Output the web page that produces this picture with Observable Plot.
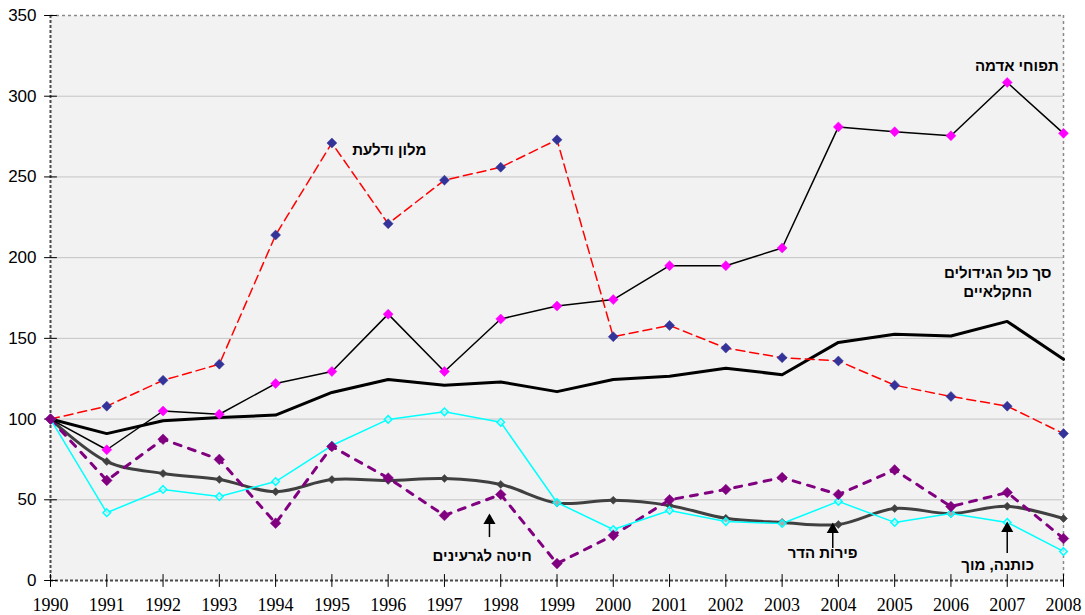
<!DOCTYPE html>
<html>
<head>
<meta charset="utf-8">
<script src="https://cdn.jsdelivr.net/npm/d3@7"></script>
<script src="https://cdn.jsdelivr.net/npm/@observablehq/plot@0.6"></script>
<style>
  html, body { margin: 0; padding: 0; background: #fff; }
</style>
</head>
<body>
<div id="chart"></div>
<script>
const years = [1990,1991,1992,1993,1994,1995,1996,1997,1998,1999,2000,2001,2002,2003,2004,2005,2006,2007,2008];
const melon    = [100,108,124,134,214,271,221,248,256,273,151,158,144,138,136,121,114,108,91];
const potatoes = [100,81,105,103,122,129.5,165,129.5,162,170,174,195,195,206,281,278,275.5,308.5,277];
const total    = [100,91,99,101,102.5,116.5,124.5,121,123,117,124.5,126.5,131.5,127.5,147.5,152.5,151.5,160.5,137];
const cotton   = [100,42,56.4,52,61.3,83.6,99.8,104.5,98,48.3,31.6,43.4,36.5,35.3,49,36,41.5,36,18];
const citrus   = [100,73.7,66.3,62.6,55,62.5,62,63.2,59.5,48,49.7,46.5,38.5,36,34.7,44.6,41.5,46,38.4];
const wheat    = [100,62,87.5,75,35.5,83,63.5,40.3,53.3,10.5,28,50,56.4,63.8,53.3,68.5,45.8,54.5,26];
const yTicks = [0,50,100,150,200,250,300,350];
const gridValues = [50,100,150,200,250,300];

const labels = [
  {text: "מלון ודלעת", x: 1996.02, y: 267.6},
  {text: "תפוחי אדמה", x: 2007.17, y: 319.7},
  {text: "סך כול הגידולים\nהחקלאיים", x: 2006.83, y: 185.5},
  {text: "חיטה לגרעינים", x: 1997.67, y: 16.1},
  {text: "פירות הדר", x: 2003.72, y: 18},
  {text: "כותנה, מוך", x: 2006.83, y: 10.5}
];
const arrows = [
  {x: 1997.8, y1: 26.6, y2: 40.3},
  {x: 2003.9, y1: 19.8, y2: 34.7},
  {x: 2007.0, y1: 16.7, y2: 35.3}
];

const toRows = (vals) => years.map((yr, i) => ({year: yr, value: vals[i]}));
const melonRows = toRows(melon), potatoRows = toRows(potatoes), totalRows = toRows(total),
      cottonRows = toRows(cotton), citrusRows = toRows(citrus), wheatRows = toRows(wheat);

const tickShape = {draw(ctx, l) { ctx.moveTo(0, 0); ctx.lineTo(0, -l); }};

const chart = Plot.plot({
  width: 1085,
  height: 615,
  marginLeft: 50,
  marginRight: 22,
  marginTop: 15,
  marginBottom: 35,
  style: {fontFamily: "Liberation Sans", fontSize: "17px", color: "#000", background: "transparent"},
  x: {domain: [1990, 2008]},
  y: {domain: [0, 350]},
  marks: [
    Plot.frame({fill: "#f2f2f2", stroke: null}),
    Plot.ruleY(gridValues, {stroke: "#c4c4c4", strokeWidth: 1}),
    Plot.ruleY([350], {stroke: "#8a8a8a", strokeWidth: 1.5, strokeDasharray: "3,3"}),
    Plot.ruleX([2008], {stroke: "#8a8a8a", strokeWidth: 1.5, strokeDasharray: "3,3"}),
    Plot.ruleX([1990], {stroke: "#4a4a4a", strokeWidth: 2, strokeDasharray: "3,2"}),
    Plot.ruleY([0], {stroke: "#4a4a4a", strokeWidth: 2, strokeDasharray: "3,2"}),
    Plot.vector(years, {x: d => d, y: () => 0, length: 12, anchor: "middle", shape: tickShape, stroke: "#000", strokeWidth: 1}),
    Plot.vector(yTicks, {x: () => 1990, y: d => d, length: 12, rotate: 90, anchor: "middle", shape: tickShape, stroke: "#000", strokeWidth: 1}),
    Plot.axisY({ticks: yTicks, tickSize: 0, tickPadding: 14, fontSize: 17, fontFamily: "Liberation Sans", label: null}),
    Plot.axisX({ticks: years, tickFormat: d => String(d), tickSize: 0, tickPadding: 18, fontSize: 18, fontFamily: "Liberation Serif", label: null}),

    Plot.line(totalRows, {x: "year", y: "value", stroke: "#000", strokeWidth: 3}),
    Plot.line(citrusRows, {x: "year", y: "value", stroke: "#404040", strokeWidth: 3, curve: "catmull-rom"}),
    Plot.line(wheatRows, {x: "year", y: "value", stroke: "#800080", strokeWidth: 3, strokeDasharray: "7,8"}),
    Plot.line(cottonRows, {x: "year", y: "value", stroke: "#00ffff", strokeWidth: 1.5}),
    Plot.line(potatoRows, {x: "year", y: "value", stroke: "#000", strokeWidth: 1.5}),
    Plot.line(melonRows, {x: "year", y: "value", stroke: "#ff0000", strokeWidth: 1.5, strokeDasharray: "9,5"}),

    Plot.dot(citrusRows, {x: "year", y: "value", symbol: "diamond2", r: 3.6, fill: "#404040", stroke: "#404040", strokeWidth: 0.5}),
    Plot.dot(cottonRows, {x: "year", y: "value", symbol: "diamond2", r: 3.4, fill: "#f2f2f2", fillOpacity: 0.6, stroke: "#00ffff", strokeWidth: 1.5}),
    Plot.dot(potatoRows, {x: "year", y: "value", symbol: "diamond2", r: 4.5, fill: "#ff00ff", stroke: "#ff00ff", strokeWidth: 0.5}),
    Plot.dot(melonRows, {x: "year", y: "value", symbol: "diamond2", r: 4.5, fill: "#333399", stroke: "#333399", strokeWidth: 0.5}),
    Plot.dot(wheatRows, {x: "year", y: "value", symbol: "diamond2", r: 4.8, fill: "#800080", stroke: "#800080", strokeWidth: 0.5}),

    Plot.ruleX(arrows, {x: "x", y1: "y1", y2: "y2", stroke: "#000", strokeWidth: 1.5}),
    Plot.dot(arrows, {x: "x", y: "y2", symbol: "triangle", r: 4.5, fill: "#000", stroke: null, dy: 5}),

    Plot.text(labels, {x: "x", y: "y", text: "text", fontFamily: "Liberation Sans", fontWeight: "bold", fontSize: 15, lineHeight: 1.3, fill: "#000"})
  ]
});
document.getElementById("chart").appendChild(chart);
</script>
</body>
</html>
